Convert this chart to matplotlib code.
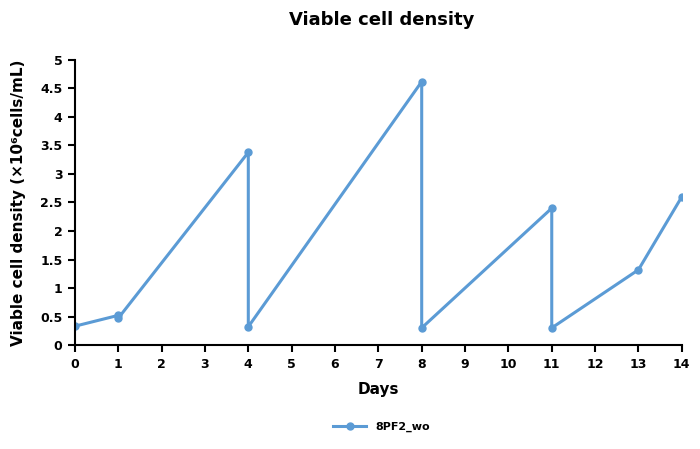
import matplotlib
matplotlib.use("Agg")
import matplotlib.pyplot as plt

days = [0, 1, 1, 4, 4, 8, 8, 11, 11, 13, 14]
density = [0.33, 0.52, 0.47, 3.38, 0.32, 4.62, 0.30, 2.40, 0.30, 1.32, 2.60]
series_name = "8PF2_wo"
xticks = list(range(0, 15))
yticks = [0, 0.5, 1, 1.5, 2, 2.5, 3, 3.5, 4, 4.5, 5]
ytick_labels = ["0", "0.5", "1", "1.5", "2", "2.5", "3", "3.5", "4", "4.5", "5"]

plt.rcParams['font.family'] = ['DejaVu Sans']
fig = plt.figure(figsize=(7, 4.49), dpi=100)
ax = fig.add_axes([0.107, 0.2316, 0.867, 0.6348])
color = "#5B9BD5"
ax.plot(days, density, color=color, lw=2.2, marker='o', ms=5, label=series_name)
ax.set_xlim(0, 14)
ax.set_ylim(0, 5)
ax.set_xticks(xticks)
ax.set_xticklabels([str(t) for t in xticks], fontweight='bold', fontsize=9)
ax.set_yticks(yticks)
ax.set_yticklabels(ytick_labels, fontweight='bold', fontsize=9)
for s in ['top', 'right']:
    ax.spines[s].set_visible(False)
for s in ['left', 'bottom']:
    ax.spines[s].set_linewidth(1.5)
ax.tick_params(direction='out', length=5, width=1.5, pad=4)
ax.set_xlabel("Days", fontweight='bold', fontsize=11, labelpad=8)
ax.set_ylabel("Viable cell density (×10⁶cells/mL)", fontweight='bold', fontsize=11, labelpad=10)
fig.text(0.545, 0.955, "Viable cell density", ha='center', va='center', fontweight='bold', fontsize=13)
leg = fig.legend(loc='center', bbox_to_anchor=(0.545, 0.05), frameon=False, fontsize=8, handlelength=3,
                 prop={'weight': 'bold', 'size': 8})
fig.savefig("out.png", dpi=100)
